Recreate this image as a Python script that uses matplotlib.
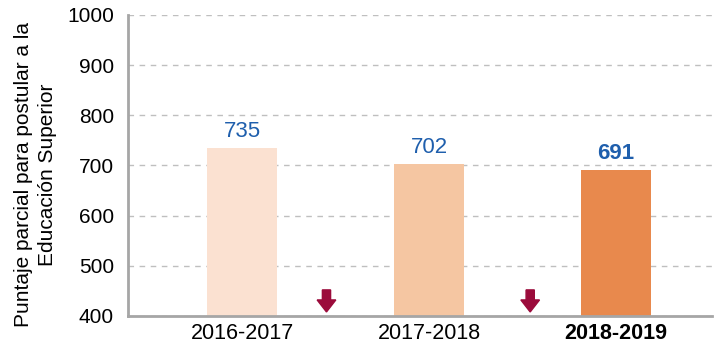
import matplotlib.pyplot as plt

periods = ["2016-2017", "2017-2018", "2018-2019"]
scores = [735, 702, 691]
bar_colors = ["#FBE1D1", "#F5C6A2", "#E8894D"]
# drops between consecutive periods, drawn as arrows on the baseline
drop_positions = [0.45, 1.54]

plt.rcParams['font.family'] = ['Liberation Sans', 'DejaVu Sans']

fig = plt.figure(figsize=(7.14, 3.48), dpi=100)
ax = fig.add_axes([0.179, 0.092, 0.818, 0.865])

x = list(range(len(periods)))
ax.bar(x, scores, width=0.375, color=bar_colors, zorder=2)

# Value labels above each bar, last one in bold
for i, v in enumerate(scores):
    ax.text(i, v + 12, f"{v}", ha='center', va='bottom', color='#1F5FAD',
            fontsize=16, fontweight='bold' if i == len(scores) - 1 else 'normal')

# Red arrows signalling the drop from one period to the next
for xp in drop_positions:
    ax.arrow(xp, 452, 0, -20, width=0.044, head_width=0.1, head_length=24,
             length_includes_head=False, color='#9B0B3B', zorder=3)

ax.set_ylim(400, 1000)
ax.set_xlim(-0.613, 2.512)
ax.set_yticks(range(400, 1001, 100))
ax.set_xticks(x)
ax.set_xticklabels(periods, fontsize=15.5)
ax.get_xticklabels()[-1].set_fontweight('bold')
ax.tick_params(axis='y', labelsize=15, length=0, pad=10)
ax.tick_params(axis='x', length=0, pad=5)

ax.yaxis.grid(True, linestyle=(0, (4, 4)), color='#BFBFBF', linewidth=1, zorder=0)
ax.set_axisbelow(True)

for side in ['top', 'right']:
    ax.spines[side].set_visible(False)
for side in ['left', 'bottom']:
    ax.spines[side].set_color('#A6A6A6')
    ax.spines[side].set_linewidth(2)

ax.set_ylabel("Puntaje parcial para postular a la\nEducación Superior", fontsize=15,
              linespacing=1.3)
ax.yaxis.set_label_coords(-0.122, 0.47)

fig.savefig("out.png", dpi=100)
